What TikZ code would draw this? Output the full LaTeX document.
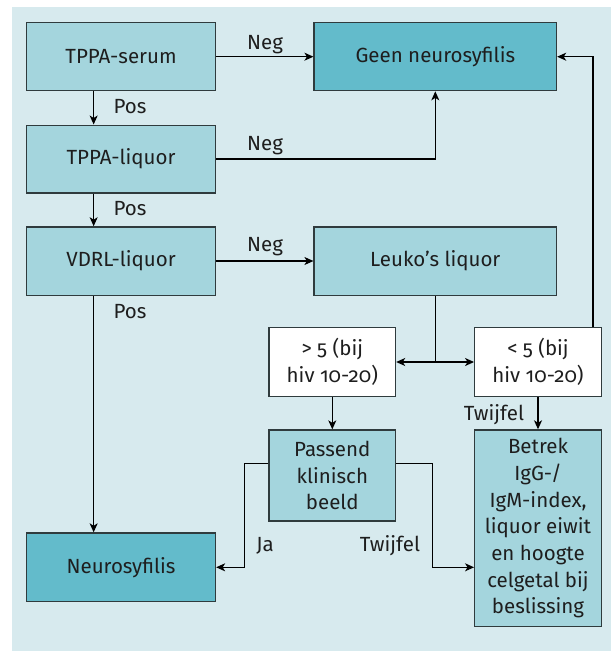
\documentclass[tikz,border=0pt]{standalone}
\usepackage{fontspec}
\setmainfont{Fira Sans}[RawFeature=+onum]
\usetikzlibrary{arrows.meta,calc}
\definecolor{bgc}{HTML}{D7EAEE}
\definecolor{lightbox}{HTML}{A4D5DD}
\definecolor{darkbox}{HTML}{63BBCB}
\definecolor{edgec}{HTML}{2F3B3D}
\definecolor{txt}{HTML}{1E1E1E}
\tikzset{
  box/.style={draw=edgec, line width=1.3pt, fill=lightbox, align=center, inner sep=2pt, text=txt,
    font=\fontsize{20.5}{26.7}\selectfont},
  darkb/.style={box, fill=darkbox},
  whiteb/.style={box, fill=white},
  conn/.style={draw=black, line width=1.1pt, -{Stealth[length=9pt,width=8pt,inset=2.5pt]}},
  lbl/.style={text=txt, font=\fontsize{20.5}{24}\selectfont, inner sep=0pt},
}
\begin{document}
\begin{tikzpicture}[x=1pt,y=-1pt]
\useasboundingbox (0,0) rectangle (611,651);
\fill[bgc] (12,7) rectangle (611,651);
% boxes
\node[box, minimum width=189pt, minimum height=68pt] (serum) at (121,56.7) {TPPA-serum};
\node[darkb, minimum width=242.5pt, minimum height=68pt] (geen) at (435.3,56.7) {Geen neurosyfilis};
\node[box, minimum width=189pt, minimum height=67.7pt] (tliq) at (121,159) {TPPA-liquor};
\node[box, minimum width=189pt, minimum height=68.3pt] (vdrl) at (121,261) {VDRL-liquor};
\node[box, minimum width=242.5pt, minimum height=68.3pt] (leuko) at (435.3,261) {Leuko’s liquor};
\node[whiteb, minimum width=126.5pt, minimum height=69pt] (gt) at (332.3,362) {> 5 (bij\\hiv 10-20)};
\node[whiteb, minimum width=126.6pt, minimum height=69pt] (lt) at (538,362) {< 5 (bij\\hiv 10-20)};
\node[box, minimum width=126.5pt, minimum height=91pt] (pass) at (332.3,475.5) {Passend\\klinisch\\beeld};
\node[box, minimum width=126.6pt, minimum height=196.7pt] (betrek) at (538,528.3) {Betrek\\IgG-/\\IgM-index,\\liquor eiwit\\en hoogte\\celgetal bij\\beslissing};
\node[darkb, minimum width=189pt, minimum height=68.7pt] (neuro) at (121,567.3) {Neurosyfilis};
% connectors
\draw[conn] (serum.east) -- (geen.west);
\draw[conn] ([xshift=67.8pt]serum.south west) -- ([xshift=67.8pt]tliq.north west);
\draw[conn] (tliq.east) -| (geen.south);
\draw[conn] ([xshift=67.8pt]tliq.south west) -- ([xshift=67.8pt]vdrl.north west);
\draw[conn] (vdrl.east) -- (leuko.west);
\draw[conn] ([xshift=67.8pt]vdrl.south west) -- ([xshift=67.8pt]neuro.north west);
\coordinate (j) at (leuko.south |- gt.east);
\draw[line width=1.1pt] (leuko.south) -- (j);
\draw[conn] (j) -- (gt.east);
\draw[conn] (j) -- (lt.west);
\draw[conn] ([xshift=-9pt]lt.north east) |- (geen.east);
\draw[conn] (gt.south) -- (pass.north);
\draw[conn] (lt.south) -- (betrek.north);
\draw[conn] ([yshift=-34.3pt]pass.north west) -- ++(-23.5,0) |- (neuro.east);
\draw[conn] ([yshift=-34.3pt]pass.north east) -- ++(36,0) |- (betrek.west |- neuro.east);
% labels
\node[lbl] (l1) at (265,45) {Neg};
\node[lbl] (l2) at (130,107) {Pos};
\node[lbl] (l3) at (265,146) {Neg};
\node[lbl] (l4) at (130,209) {Pos};
\node[lbl] (l5) at (265,247) {Neg};
\node[lbl] (l6) at (130,312) {Pos};
\node[lbl] (l7) at (494,415) {Twijfel};
\node[lbl] (l8) at (265,546) {Ja};
\node[lbl] (l9) at (390,546) {Twijfel};
\end{tikzpicture}
\end{document}
